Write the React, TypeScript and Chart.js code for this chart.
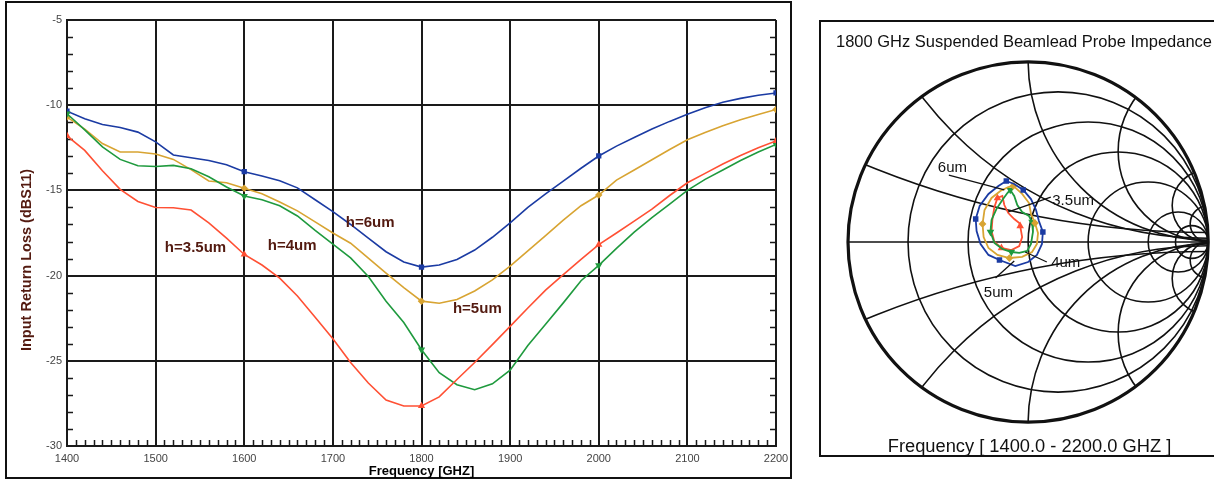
import React, { useEffect, useRef } from "react";
import { Chart, registerables } from "chart.js";

Chart.register(...registerables);

const FONT = "'Liberation Sans', Arial, Helvetica, sans-serif";

// ---------- Left chart: return loss vs frequency ----------
const frequencies = [
  1400, 1420, 1440, 1460, 1480, 1500, 1520, 1540, 1560, 1580,
  1600, 1620, 1640, 1660, 1680, 1700, 1720, 1740, 1760, 1780,
  1800, 1820, 1840, 1860, 1880, 1900, 1920, 1940, 1960, 1980,
  2000, 2020, 2040, 2060, 2080, 2100, 2120, 2140, 2160, 2180, 2200,
];
const rlH35 = [
  -11.8, -12.65, -13.85, -14.94, -15.65, -16.0, -16.02, -16.15, -16.9, -17.8,
  -18.76, -19.38, -20.15, -21.2, -22.45, -23.7, -25.1, -26.3, -27.3, -27.65,
  -27.65, -27.12, -26.1, -25.1, -24.05, -22.98, -21.9, -20.85, -19.94, -19.05,
  -18.18, -17.5, -16.8, -16.1, -15.3, -14.55, -14.0, -13.45, -12.95, -12.5, -12.1,
];
const rlH4 = [
  -10.5, -11.45, -12.45, -13.18, -13.55, -13.6, -13.53, -13.73, -14.2, -14.8,
  -15.33, -15.55, -15.9, -16.5, -17.35, -18.15, -18.96, -20.05, -21.5, -22.75,
  -24.35, -25.7, -26.4, -26.7, -26.35, -25.55, -24.1, -22.85, -21.6, -20.3,
  -19.4, -18.4, -17.45, -16.6, -15.8, -15.0, -14.35, -13.8, -13.25, -12.75, -12.3,
];
const rlH5 = [
  -10.7, -11.4, -12.25, -12.75, -12.75, -12.86, -13.18, -13.78, -14.45, -14.55,
  -14.88, -15.2, -15.68, -16.2, -16.85, -17.5, -18.1, -18.98, -19.85, -20.7,
  -21.5, -21.62, -21.4, -20.9, -20.25, -19.45, -18.55, -17.65, -16.75, -15.9,
  -15.27, -14.4, -13.8, -13.2, -12.6, -12.03, -11.6, -11.2, -10.85, -10.55, -10.25,
];
const rlH6 = [
  -10.35, -10.8, -11.13, -11.31, -11.58, -12.15, -12.92, -13.08, -13.25, -13.5,
  -13.9, -14.15, -14.43, -14.85, -15.55, -16.25, -17.0, -17.8, -18.6, -19.2,
  -19.5, -19.38, -19.05, -18.5, -17.75, -16.9, -16.0, -15.2, -14.45, -13.7,
  -12.98, -12.4, -11.9, -11.4, -10.95, -10.53, -10.15, -9.83, -9.6, -9.42, -9.28,
];
const markerFrequencies = [1400, 1600, 1800, 2000, 2200];
const xTickValues = [1400, 1500, 1600, 1700, 1800, 1900, 2000, 2100, 2200];
const yTickValues = [-30, -25, -20, -15, -10, -5];
const seriesLabels = ["h=3.5um", "h=4um", "h=5um", "h=6um"];
const yAxisTitle = "Input Return Loss (dBS11)";
const xAxisTitle = "Frequency [GHZ]";

// ---------- Right chart: Smith chart (reflection coefficient) ----------
const smithTitle = "1800 GHz Suspended Beamlead Probe Impedance";
const smithFooter = "Frequency [ 1400.0 - 2200.0 GHZ ]";
const smithResistances = [0.2, 0.5, 1, 2, 5, 10];
const smithReactances = [0.2, 0.5, 1, 2, 5, 10];
const smithLabels = ["6um", "3.5um", "4um", "5um"];

const g6Re = [-0.121, -0.077, -0.027, 0.016, 0.044, 0.06, 0.082, 0.077, 0.049, 0.0, -0.071, -0.159, -0.22, -0.264, -0.286, -0.291, -0.269, -0.22, -0.165, -0.121];
const g6Im = [0.335, 0.319, 0.286, 0.236, 0.176, 0.115, 0.055, -0.011, -0.071, -0.11, -0.132, -0.099, -0.071, -0.011, 0.06, 0.126, 0.198, 0.264, 0.308, 0.335];
const g6Markers = [0, 2, 6, 11, 15];

const g5Re = [-0.082, -0.033, 0.005, 0.016, 0.038, 0.055, 0.049, 0.022, -0.033, -0.104, -0.17, -0.22, -0.247, -0.253, -0.242, -0.203, -0.154, -0.11, -0.082];
const g5Im = [0.308, 0.264, 0.214, 0.154, 0.104, 0.049, -0.011, -0.055, -0.082, -0.088, -0.071, -0.033, 0.027, 0.099, 0.176, 0.242, 0.28, 0.302, 0.308];
const g5Markers = [0, 4, 9, 13];

const g4Re = [-0.099, -0.077, -0.06, -0.033, 0.005, 0.022, 0.027, 0.016, -0.005, -0.049, -0.093, -0.143, -0.187, -0.209, -0.203, -0.176, -0.143, -0.115, -0.099];
const g4Im = [0.286, 0.253, 0.203, 0.165, 0.143, 0.11, 0.055, -0.011, -0.049, -0.06, -0.055, -0.038, -0.005, 0.055, 0.121, 0.181, 0.231, 0.269, 0.286];
const g4Markers = [0, 5, 10, 13];

const g35Re = [-0.044, -0.033, -0.049, -0.093, -0.148, -0.187, -0.203, -0.198, -0.187, -0.17, -0.143, -0.132, -0.11, -0.077, -0.049, -0.044];
const g35Im = [0.088, 0.027, -0.022, -0.044, -0.033, 0.0, 0.06, 0.126, 0.192, 0.242, 0.253, 0.203, 0.159, 0.126, 0.104, 0.088];
const g35Markers = [0, 4, 9];

// ---------- styles / layout ----------
const COLORS = { h35: "#ff5034", h4: "#1f9a3e", h5: "#d8a432", h6: "#1b3ba3" };
const LABEL_COLOR = "#531a10";

const curveLabelAnchors = [
  { text: seriesLabels[0], x: 1545, y: -18.61 },
  { text: seriesLabels[1], x: 1654, y: -18.5 },
  { text: seriesLabels[2], x: 1863, y: -22.2 },
  { text: seriesLabels[3], x: 1742, y: -17.15 },
];

const smithAnnotations = [
  { text: smithLabels[0], lx: -0.42, ly: 0.385, from: [-0.44, 0.368], to: [-0.132, 0.286] },
  { text: smithLabels[1], lx: 0.25, ly: 0.203, from: [0.126, 0.247], to: [-0.11, 0.165] },
  { text: smithLabels[2], lx: 0.209, ly: -0.137, from: [0.104, -0.11], to: [-0.016, -0.055] },
  { text: smithLabels[3], lx: -0.165, ly: -0.302, from: [-0.181, -0.198], to: [-0.077, -0.104] },
];

const leftDecorPlugin = {
  id: "leftDecor",
  beforeDatasetsDraw(chart: any) {
    const { ctx, chartArea: a, scales } = chart;
    const x = scales.x;
    const y = scales.y;
    ctx.save();
    ctx.strokeStyle = "#1a1a1a";
    ctx.lineWidth = 1.5;
    ctx.beginPath();
    for (let v = -29; v < -5; v += 1) {
      if (v % 5 === 0) continue;
      const yy = Math.round(y.getPixelForValue(v)) + 0.5;
      ctx.moveTo(a.left, yy);
      ctx.lineTo(a.left + 6, yy);
      ctx.moveTo(a.right, yy);
      ctx.lineTo(a.right - 6, yy);
    }
    for (let f = 1410; f < 2200; f += 10) {
      if (f % 100 === 0) continue;
      const xx = Math.round(x.getPixelForValue(f)) + 0.5;
      ctx.moveTo(xx, a.bottom);
      ctx.lineTo(xx, a.bottom - 6);
    }
    ctx.stroke();
    ctx.restore();
  },
  afterDatasetsDraw(chart: any) {
    const { ctx, scales } = chart;
    const x = scales.x;
    const y = scales.y;
    ctx.save();
    ctx.fillStyle = LABEL_COLOR;
    ctx.font = `bold 15px ${FONT}`;
    ctx.textAlign = "center";
    ctx.textBaseline = "alphabetic";
    for (const l of curveLabelAnchors) {
      ctx.fillText(l.text, x.getPixelForValue(l.x), y.getPixelForValue(l.y));
    }
    ctx.translate(31, 260);
    ctx.rotate(-Math.PI / 2);
    ctx.font = `bold 14.5px ${FONT}`;
    ctx.fillText(yAxisTitle, 0, 0);
    ctx.restore();
  },
};

const smithPlugin = {
  id: "smithGrid",
  beforeDatasetsDraw(chart: any) {
    const { ctx, scales } = chart;
    const px = (v: number) => scales.x.getPixelForValue(v);
    const py = (v: number) => scales.y.getPixelForValue(v);
    const cx = px(0);
    const cy = py(0);
    const R = px(1) - cx;
    ctx.save();
    ctx.beginPath();
    ctx.arc(cx, cy, R, 0, Math.PI * 2);
    ctx.clip();
    ctx.strokeStyle = "#111";
    ctx.lineWidth = 1.6;
    for (const r of smithResistances) {
      ctx.beginPath();
      ctx.arc(px(r / (1 + r)), cy, R / (1 + r), 0, Math.PI * 2);
      ctx.stroke();
    }
    for (const xv of smithReactances) {
      for (const s of [1, -1]) {
        ctx.beginPath();
        ctx.arc(px(1), py(s / xv), R / xv, 0, Math.PI * 2);
        ctx.stroke();
      }
    }
    ctx.beginPath();
    ctx.moveTo(px(-1), cy);
    ctx.lineTo(px(1), cy);
    ctx.stroke();
    ctx.restore();
    ctx.save();
    ctx.strokeStyle = "#111";
    ctx.lineWidth = 3.2;
    ctx.beginPath();
    ctx.arc(cx, cy, R, 0, Math.PI * 2);
    ctx.stroke();
    ctx.restore();
  },
  afterDatasetsDraw(chart: any) {
    const { ctx, scales } = chart;
    const px = (v: number) => scales.x.getPixelForValue(v);
    const py = (v: number) => scales.y.getPixelForValue(v);
    ctx.save();
    ctx.strokeStyle = "#111";
    ctx.lineWidth = 1.3;
    ctx.fillStyle = "#111";
    ctx.font = `15px ${FONT}`;
    ctx.textAlign = "center";
    ctx.textBaseline = "alphabetic";
    for (const an of smithAnnotations) {
      ctx.beginPath();
      ctx.moveTo(px(an.from[0]), py(an.from[1]));
      ctx.lineTo(px(an.to[0]), py(an.to[1]));
      ctx.stroke();
      ctx.fillText(an.text, px(an.lx), py(an.ly));
    }
    ctx.font = `16.5px ${FONT}`;
    ctx.fillText(smithTitle, 214, 47);
    ctx.font = `18.3px ${FONT}`;
    ctx.fillText(smithFooter, 219.5, 452);
    ctx.restore();
  },
};

function markerRadii(freqs: number[]) {
  return freqs.map((f) => (markerFrequencies.includes(f) ? 2.6 : 0));
}
function idxRadii(n: number, idx: number[]) {
  return Array.from({ length: n }, (_, i) => (idx.includes(i) ? 2.6 : 0));
}

export default function App() {
  const leftRef = useRef<HTMLCanvasElement>(null);
  const smithRef = useRef<HTMLCanvasElement>(null);

  useEffect(() => {
    const lineDs = (label: string, values: number[], color: string, style: string, rot = 0) => ({
      label,
      data: frequencies.map((f, i) => ({ x: f, y: values[i] })),
      borderColor: color,
      backgroundColor: color,
      borderWidth: 1.6,
      pointRadius: markerRadii(frequencies),
      pointStyle: style,
      pointRotation: rot,
      tension: 0,
      fill: false,
    });

    const tickFont = { family: FONT, size: 11 };
    const left = new Chart(leftRef.current as HTMLCanvasElement, {
      type: "line",
      data: {
        datasets: [
          lineDs(seriesLabels[0], rlH35, COLORS.h35, "triangle"),
          lineDs(seriesLabels[1], rlH4, COLORS.h4, "triangle", 180),
          lineDs(seriesLabels[2], rlH5, COLORS.h5, "rectRot"),
          lineDs(seriesLabels[3], rlH6, COLORS.h6, "rect"),
        ] as any,
      },
      options: {
        animation: false,
        responsive: false,
        events: [],
        layout: { padding: { top: 20, right: 24, left: 0, bottom: 0 } },
        plugins: { legend: { display: false }, tooltip: { enabled: false } },
        scales: {
          x: {
            type: "linear",
            min: 1400,
            max: 2200,
            afterBuildTicks: (s: any) => {
              s.ticks = xTickValues.map((v) => ({ value: v }));
            },
            afterFit: (s: any) => {
              s.height = 34;
            },
            ticks: {
              callback: (v: any) => String(v),
              font: tickFont,
              color: "#444",
              padding: 6,
              maxRotation: 0,
              autoSkip: false,
            },
            grid: { color: "#1a1a1a", lineWidth: 2, drawTicks: false },
            border: { display: true, color: "#1a1a1a", width: 2 },
            title: {
              display: true,
              text: xAxisTitle,
              color: "#000",
              font: { family: FONT, size: 13, weight: "bold" },
              padding: { top: 0, bottom: 1 },
            },
          },
          y: {
            type: "linear",
            min: -30,
            max: -5,
            afterBuildTicks: (s: any) => {
              s.ticks = yTickValues.map((v) => ({ value: v }));
            },
            afterFit: (s: any) => {
              s.width = 67;
            },
            ticks: {
              callback: (v: any) => String(v),
              font: tickFont,
              color: "#444",
              padding: 5,
              autoSkip: false,
            },
            grid: { color: "#1a1a1a", lineWidth: 2, drawTicks: false },
            border: { display: true, color: "#1a1a1a", width: 2 },
          },
        },
      } as any,
      plugins: [leftDecorPlugin],
    });

    const smithDs = (label: string, re: number[], im: number[], idx: number[], color: string, style: string, rot = 0) => ({
      label,
      data: re.map((r, i) => ({ x: r, y: im[i] })),
      showLine: true,
      borderColor: color,
      backgroundColor: color,
      borderWidth: 1.8,
      pointRadius: idxRadii(re.length, idx),
      pointStyle: style,
      pointRotation: rot,
      tension: 0,
      fill: false,
    });

    const smith = new Chart(smithRef.current as HTMLCanvasElement, {
      type: "scatter",
      data: {
        datasets: [
          smithDs(seriesLabels[3], g6Re, g6Im, g6Markers, COLORS.h6, "rect"),
          smithDs(seriesLabels[2], g5Re, g5Im, g5Markers, COLORS.h5, "rectRot"),
          smithDs(seriesLabels[1], g4Re, g4Im, g4Markers, COLORS.h4, "triangle", 180),
          smithDs(seriesLabels[0], g35Re, g35Im, g35Markers, COLORS.h35, "triangle"),
        ] as any,
      },
      options: {
        animation: false,
        responsive: false,
        events: [],
        layout: { padding: { left: 38, right: 2, top: 60, bottom: 56 } },
        plugins: { legend: { display: false }, tooltip: { enabled: false } },
        scales: {
          x: { type: "linear", min: -1, max: 1, display: false },
          y: { type: "linear", min: -1, max: 1, display: false },
        },
      } as any,
      plugins: [smithPlugin],
    });

    return () => {
      left.destroy();
      smith.destroy();
    };
  }, []);

  return (
    <div
      style={{
        position: "absolute",
        left: 0,
        top: 0,
        width: 1214,
        height: 480,
        background: "#fff",
        overflow: "hidden",
      }}
    >
      <div
        style={{
          position: "absolute",
          left: 5,
          top: 1,
          width: 787,
          height: 478,
          border: "2px solid #111",
          boxSizing: "border-box",
        }}
      />
      <canvas
        ref={leftRef}
        width={800}
        height={480}
        style={{ position: "absolute", left: 0, top: 0, width: 800, height: 480 }}
      />
      <div
        style={{
          position: "absolute",
          left: 819,
          top: 20,
          width: 420,
          height: 437,
          border: "2px solid #111",
          boxSizing: "border-box",
        }}
      />
      <canvas
        ref={smithRef}
        width={404}
        height={480}
        style={{ position: "absolute", left: 810, top: 0, width: 404, height: 480 }}
      />
    </div>
  );
}
